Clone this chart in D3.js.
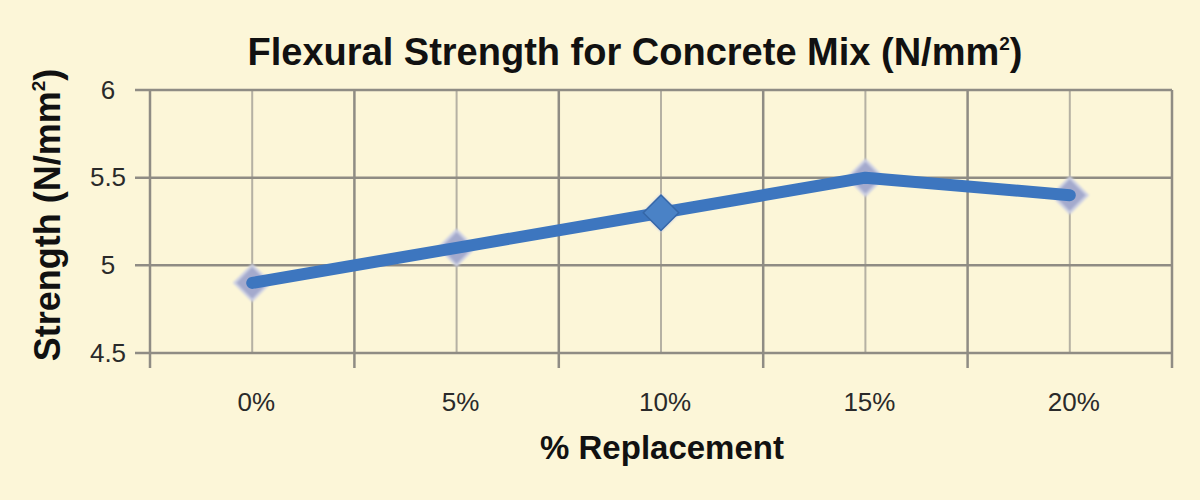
<!DOCTYPE html>
<html>
<head>
<meta charset="utf-8">
<script src="https://cdn.jsdelivr.net/npm/d3@7"></script>
<style>
  body { margin: 0; background: #fcf6d8; }
  svg { display: block; font-family: "Liberation Sans", Arial, sans-serif; }
  .tick text { fill: #2a2a2a; font-size: 26px; }
  .title, .axis-label { font-weight: bold; fill: #111; }
</style>
</head>
<body>
<svg id="chart" width="1200" height="500"></svg>
<script>
// DATA
const categories = ["0%", "5%", "10%", "15%", "20%"];
const strength = [4.9, 5.1, 5.3, 5.5, 5.4];
const yTicks = [4.5, 5, 5.5, 6];

// SETUP
const margin = { top: 90, right: 28, bottom: 147, left: 150 },
      width = 1200 - margin.left - margin.right,
      height = 500 - margin.top - margin.bottom;

const svg = d3.select("#chart");
svg.append("rect").attr("width", 1200).attr("height", 500).attr("fill", "#fcf6d8");

const g = svg.append("g")
    .attr("transform", `translate(${margin.left},${margin.top})`);

// SCALES
const x = d3.scaleBand().domain(categories).range([0, width]).padding(0);
const y = d3.scaleLinear().domain([4.5, 6]).range([height, 0]);

// GRID: light lines through category centres
g.selectAll(".vcenter")
    .data(categories)
    .enter().append("line")
    .attr("x1", d => x(d) + x.bandwidth() / 2)
    .attr("x2", d => x(d) + x.bandwidth() / 2)
    .attr("y1", 0).attr("y2", height)
    .attr("stroke", "#b5b1a3").attr("stroke-width", 2);

// GRID: horizontal lines
g.selectAll(".hgrid")
    .data(yTicks)
    .enter().append("line")
    .attr("x1", -15).attr("x2", width)
    .attr("y1", d => y(d)).attr("y2", d => y(d))
    .attr("stroke", "#8f8c84").attr("stroke-width", 2.5);

// GRID: category boundaries, extended below as ticks
const bounds = categories.map(d => x(d)).concat([width]);
g.selectAll(".vbound")
    .data(bounds)
    .enter().append("line")
    .attr("x1", d => d).attr("x2", d => d)
    .attr("y1", 0).attr("y2", height + 15)
    .attr("stroke", "#8f8c84").attr("stroke-width", 2.5);

// AXES (labels only)
g.append("g")
    .attr("transform", `translate(4,${height})`)
    .call(d3.axisBottom(x).tickSize(0).tickPadding(40))
    .call(a => a.select(".domain").remove());

g.append("g")
    .attr("transform", "translate(-42,0)")
    .call(d3.axisLeft(y).tickValues(yTicks).tickFormat(d3.format("")).tickSize(0).tickPadding(0))
    .call(a => a.select(".domain").remove())
    .call(a => a.selectAll(".tick text").attr("text-anchor", "middle"));

// SERIES
const pts = categories.map((c, i) => ({ c, v: strength[i] }));
const cx = d => x(d.c) + x.bandwidth() / 2;
const diamond = d3.symbol().type(d3.symbolDiamond2).size(800);

const defs = svg.append("defs");
const blur = defs.append("filter").attr("id", "glow")
    .attr("x", "-50%").attr("y", "-50%").attr("width", "200%").attr("height", "200%");
blur.append("feGaussianBlur").attr("stdDeviation", 1.2);

// pale markers below the line
g.selectAll(".marker")
    .data(pts)
    .enter().append("path")
    .attr("d", diamond)
    .attr("transform", d => `translate(${cx(d)},${y(d.v)})`)
    .attr("fill", "#a4aacd")
    .attr("stroke", "#cfd2e3")
    .attr("stroke-width", 2.5)
    .attr("filter", "url(#glow)");

g.append("path")
    .datum(pts)
    .attr("d", d3.line().x(cx).y(d => y(d.v)))
    .attr("fill", "none")
    .attr("stroke", "#3d76bf")
    .attr("stroke-width", 12)
    .attr("stroke-linejoin", "round")
    .attr("stroke-linecap", "round");

// the 10% marker sits on top of the line
g.selectAll(".marker-top")
    .data(pts.filter(d => d.c === "10%"))
    .enter().append("path")
    .attr("d", diamond)
    .attr("transform", d => `translate(${cx(d)},${y(d.v)})`)
    .attr("fill", "#4a82c6")
    .attr("stroke", "#3567a8")
    .attr("stroke-width", 1.5);

// LABELS
const title = svg.append("text")
    .attr("class", "title")
    .attr("x", 635).attr("y", 65)
    .attr("text-anchor", "middle")
    .style("font-size", "38px");
title.append("tspan").text("Flexural Strength for Concrete Mix (N/mm");
title.append("tspan").text("2").attr("dy", -15).style("font-size", "19px");
title.append("tspan").text(")").attr("dy", 15);

svg.append("text")
    .attr("class", "axis-label")
    .attr("text-anchor", "middle")
    .attr("x", 662).attr("y", 459)
    .style("font-size", "33px")
    .text("% Replacement");

const yl = svg.append("text")
    .attr("class", "axis-label")
    .attr("text-anchor", "middle")
    .attr("transform", "translate(60,215) rotate(-90)")
    .style("font-size", "36px");
yl.append("tspan").text("Strength (N/mm");
yl.append("tspan").text("2").attr("dy", -15).style("font-size", "19px");
yl.append("tspan").text(")").attr("dy", 15);
</script>
</body>
</html>
